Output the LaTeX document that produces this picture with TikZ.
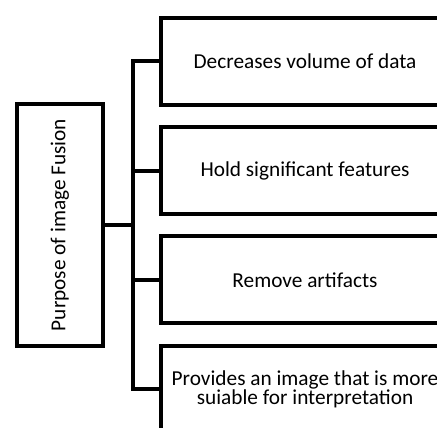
\documentclass[tikz,border=0pt]{standalone}
\usepackage{fontspec}
\setmainfont{Carlito}
\begin{document}
\begin{tikzpicture}[x=1pt,y=-1pt,
    box/.style={draw,line width=4pt,outer sep=0pt,inner sep=0pt,
      minimum width=288pt,minimum height=87pt,anchor=north west,
      align=center,font=\fontsize{21.3}{19.5}\selectfont},
    link/.style={line width=4pt}]
    \useasboundingbox (0,0) rectangle (437,428);
    \clip (0,0) rectangle (437,428);
    % main box, text turned up
    \node[draw,line width=4pt,outer sep=0pt,inner sep=0pt,rotate=90,
      minimum width=242pt,minimum height=86pt,
      font=\fontsize{21.3}{19.5}\selectfont] (purpose) at (60,225) {Purpose of image Fusion};
    \coordinate (bus) at (133,225);
    % the four purposes
    \node[box] (volume) at (161,17.8) {Decreases volume of data};
    \node[box] (features) at (161,127.1) {Hold significant features};
    \node[box] (artifacts) at (161,236.4) {Remove artifacts};
    \node[box] (interpret) at (161,345.7) {Provides an image that is more\\suiable for interpretation};
    % connectors
    \draw[link] (purpose.south) -- (bus);
    \draw[link] (volume.west) -- (bus |- volume.west) -- (bus |- interpret.west) -- (interpret.west);
    \draw[link] (bus |- features.west) -- (features.west);
    \draw[link] (bus |- artifacts.west) -- (artifacts.west);
\end{tikzpicture}
\end{document}
